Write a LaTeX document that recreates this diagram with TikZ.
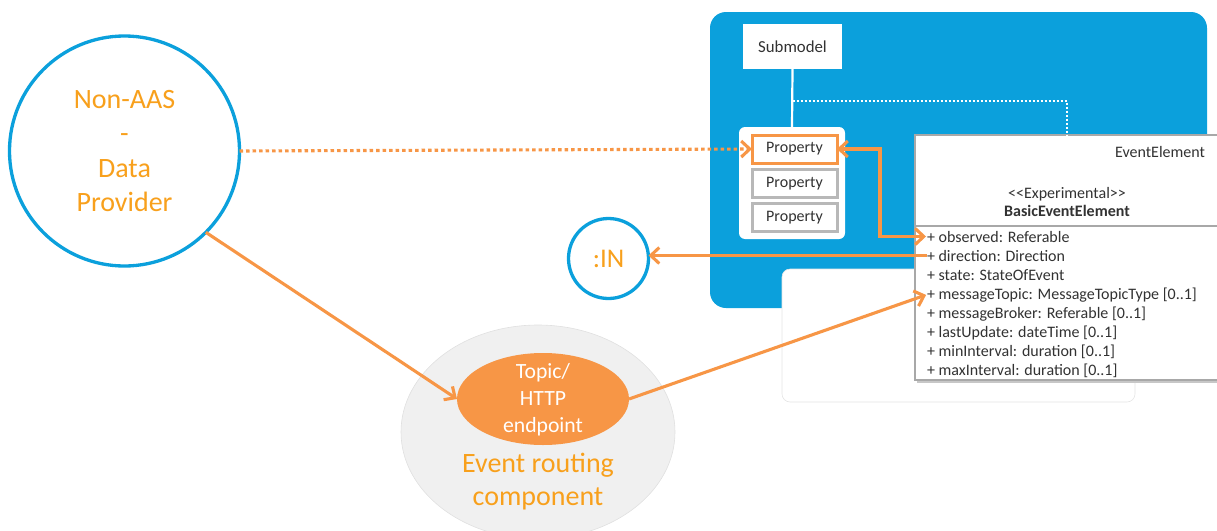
\documentclass[tikz,border=0pt]{standalone}
\usepackage{fontspec}
\setmainfont{Carlito}
\usetikzlibrary{arrows.meta,shapes.geometric,calc}
\definecolor{aasblue}{RGB}{11,160,220}
\definecolor{lineor}{RGB}{247,150,70}
\definecolor{txtor}{RGB}{248,160,28}
\definecolor{boxgray}{RGB}{168,168,168}
\definecolor{txtdark}{RGB}{50,50,50}
\begin{document}
\begin{tikzpicture}[x=1pt,y=-1pt,
  every node/.style={inner sep=0pt, outer sep=0pt},
  bigcirc/.style={circle, draw=aasblue, line width=3.3pt, fill=white, text=txtor, align=center},
  propbox/.style={draw=#1, line width=3pt, fill=white, minimum width=85pt, minimum height=28pt, text=txtdark, font=\fontsize{16}{18}\selectfont},
  attr/.style={anchor=base west, text=txtdark, font=\fontsize{16}{18}\selectfont},
  hdr/.style={text=txtdark, font=\fontsize{16}{18}\selectfont},
  orarrow/.style={draw=lineor, line width=3.1pt, -{Straight Barb[length=8.5pt,width=16pt]}},
  tipo/.tip={Straight Barb[length=8.5pt,width=16pt]}
]
\useasboundingbox (0,0) rectangle (1217,530);

% AAS blue area
\node[fill=aasblue, rounded corners=16pt, minimum width=497pt, minimum height=296pt] (aas) at (958.5,160) {};
% lower white box
\node[fill=white, draw=black!10, line width=0.6pt, rounded corners=8pt, minimum width=353pt, minimum height=133pt] (lowbox) at (958.5,335.5) {};

% Submodel
\node[fill=white, minimum width=99pt, minimum height=45pt, text=txtdark, font=\fontsize{16.8}{19}\selectfont] (sm) at (792.5,46.5) {Submodel};
% property group
\node[fill=white, rounded corners=6pt, minimum width=106pt, minimum height=112pt] (pg) at (792,183) {};
\draw[white, line width=2.2pt] (sm.south) -- (pg.north);

% Properties
\node[propbox=lineor] (p1) at (794.5,149) {Property};
\node[propbox=black!28] (p2) at (794.5,183.5) {Property};
\node[propbox=black!28] (p3) at (794.5,217.5) {Property};

% EventElement box
\fill[black!22] (917,137) rectangle (1232,383);
\node[draw=boxgray, fill=white, line width=2.4pt, minimum width=315pt, minimum height=245pt, anchor=north west] (ee) at (915,135) {};
\coordinate (sepL) at (915,226);
\coordinate (sepR) at (1230,226);
\draw[boxgray, line width=2.4pt] (sepL) -- (sepR);

% dotted white connector
\coordinate (dj) at (792.5,101);
\coordinate (eetop) at (1067,135);
\draw[white, line width=2.6pt, dash pattern=on 2.2pt off 1.8pt] (dj) -| (eetop);

\node[hdr, anchor=base east] (eename) at (1205,157) {EventElement};
\node[hdr, anchor=base] (stereo) at (1067,198) {<\kern0pt<Experimental>\kern0pt>};
\node[hdr, anchor=base, font=\fontsize{16}{18}\selectfont\bfseries] (cls) at (1067,216) {BasicEventElement};

\node[attr] (a1) at (927,242) {+ observed: Referable};
\node[attr] (a2) at (927,261) {+ direction: Direction};
\node[attr] (a3) at (927,280) {+ state: StateOfEvent};
\node[attr] (a4) at (927,299) {+ messageTopic: MessageTopicType [0..1]};
\node[attr] (a5) at (927,318) {+ messageBroker: Referable [0..1]};
\node[attr] (a6) at (927,337) {+ lastUpdate: dateTime [0..1]};
\node[attr] (a7) at (927,356) {+ minInterval: duration [0..1]};
\node[attr] (a8) at (927,375) {+ maxInterval: duration [0..1]};

% Event routing component
\node[ellipse, fill=black!6, draw=black!12, line width=0.6pt, minimum width=274pt, minimum height=214pt] (erc) at (538,432) {};
\node[text=txtor, align=center, font=\fontsize{28}{33}\selectfont] (ercl) at (538,482) {Event routing\\component};
\node[ellipse, fill=lineor, minimum width=172pt, minimum height=92pt] (tp) at (543,399) {};
\node[text=white, align=center, font=\fontsize{21.7}{27}\selectfont] (tpl) at (543,400) {Topic/\\HTTP\\endpoint};

% circles
\node[bigcirc, minimum size=230pt, font=\fontsize{28}{34.3}\selectfont] (dp) at (124.5,151) {Non-AAS\\-\\Data\\Provider};
\node[bigcirc, minimum size=80pt, font=\fontsize{27}{30}\selectfont] (in) at (608.5,258.5) {:IN};

% connectors
\draw[orarrow, dash pattern=on 3.5pt off 3pt] (dp.east) -- (p1.west);
\draw[orarrow] (dp.-45) -- (tp.west);
\draw[orarrow, shorten >=1pt] (tp.east) -- (a4.west);
\draw[orarrow] (a2.west) -- (a2.west -| in.east);
\draw[draw=lineor, line width=3.1pt, tipo-tipo, shorten >=1pt] (p1.east) -- ++(43,0) |- (a1.west);
\end{tikzpicture}
\end{document}
